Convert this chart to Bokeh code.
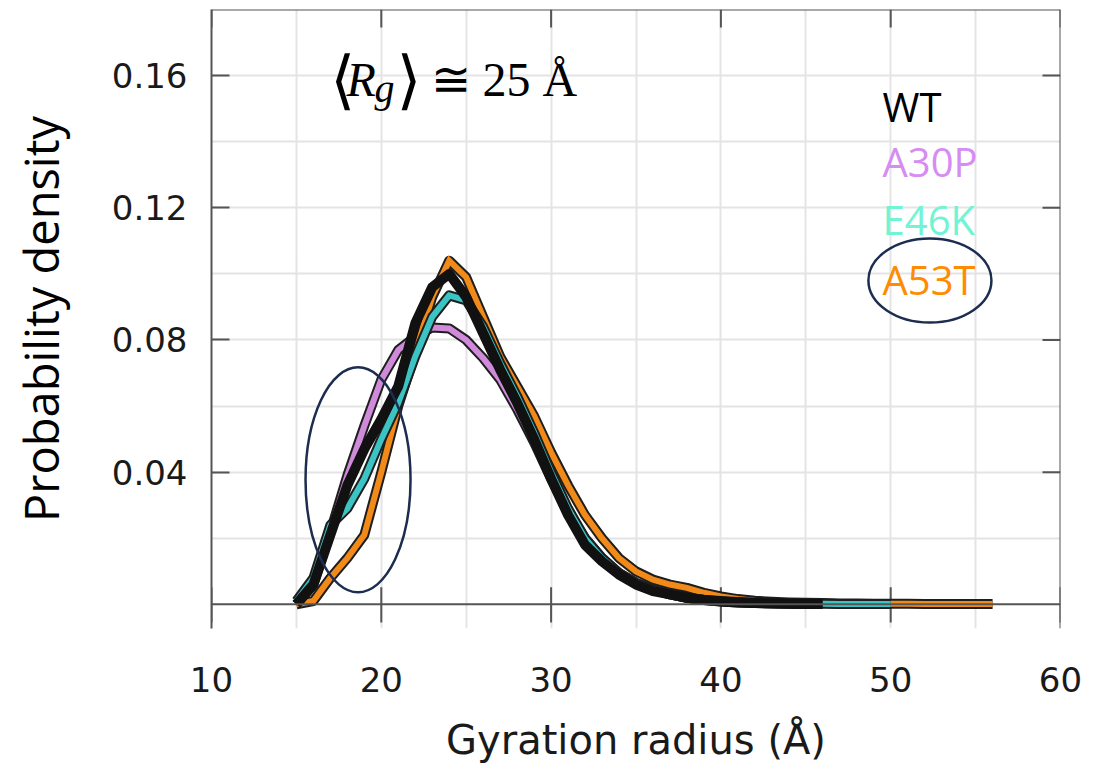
from bokeh.plotting import figure
from bokeh.models import Range1d, FixedTicker, Span
from bokeh.embed import file_html
from bokeh.resources import INLINE
from bokeh.core.properties import value

# ---------------- data ----------------
rg_wt = list(range(15, 47))
pd_wt = [0.000, 0.006, 0.021, 0.036, 0.047, 0.056, 0.066, 0.085, 0.096, 0.100,
         0.093, 0.082, 0.071, 0.061, 0.050, 0.038, 0.027, 0.018, 0.013, 0.009,
         0.006, 0.004, 0.003, 0.002, 0.0013, 0.0009, 0.0006, 0.0004, 0.0003, 0.0002,
         0.0001, 0.0001]

rg_a30p = list(range(15, 46))
pd_a30p = [0.000, 0.006, 0.022, 0.039, 0.054, 0.068, 0.077, 0.081, 0.0838, 0.0835,
           0.080, 0.0745, 0.068, 0.059, 0.049, 0.038, 0.028, 0.020, 0.014, 0.0095,
           0.0065, 0.0045, 0.003, 0.002, 0.0013, 0.0009, 0.0006, 0.0004, 0.0003, 0.0002,
           0.0001]

rg_e46k = list(range(15, 51))
pd_e46k = [0.001, 0.008, 0.024, 0.029, 0.038, 0.050, 0.061, 0.075, 0.087, 0.0935,
           0.092, 0.084, 0.073, 0.063, 0.052, 0.040, 0.029, 0.020, 0.014, 0.0095,
           0.0065, 0.0045, 0.003, 0.002, 0.0014, 0.001, 0.0007, 0.0005, 0.0004, 0.0003,
           0.0002, 0.0002, 0.0001, 0.0001, 0.0001, 0.0001]

rg_a53t = list(range(15, 57))
pd_a53t = [0.000, 0.001, 0.008, 0.014, 0.021, 0.040, 0.060, 0.076, 0.093, 0.104,
           0.099, 0.087, 0.075, 0.066, 0.057, 0.046, 0.036, 0.027, 0.020, 0.014,
           0.010, 0.0075, 0.006, 0.005, 0.0035, 0.0024, 0.0016, 0.0011, 0.0008, 0.0006,
           0.0005, 0.0004, 0.0003, 0.0003, 0.0002, 0.0002, 0.0002, 0.0001, 0.0001, 0.0001,
           0.0001, 0.0001]

series_names = ["WT", "A30P", "E46K", "A53T"]
line_colors = ["#111111", "#cf8ad9", "#3cc4c4", "#f28a1a"]
label_colors = ["#000000", "#d68cf2", "#6ff5d4", "#ff8c00"]

x_tick_values = [10, 20, 30, 40, 50, 60]
y_tick_values = [0.04, 0.08, 0.12, 0.16]
x_grid_values = [10, 15, 20, 25, 30, 35, 40, 45, 50, 55, 60]
y_grid_values = [0.02, 0.04, 0.06, 0.08, 0.10, 0.12, 0.14, 0.16, 0.18]

X_MIN, X_MAX = 10, 60
Y_MIN, Y_MAX = -0.0073, 0.18

# ---------------- figure ----------------
AX = "#555555"
p = figure(width=1096, height=772,
           x_range=Range1d(X_MIN, X_MAX), y_range=Range1d(Y_MIN, Y_MAX),
           output_backend="svg", toolbar_location=None,
           min_border_left=211, min_border_right=36,
           min_border_top=9, min_border_bottom=144)
p.outline_line_color = None
p.background_fill_color = "white"
p.border_fill_color = "white"

# grid
p.xgrid.ticker = FixedTicker(ticks=x_grid_values)
p.ygrid.ticker = FixedTicker(ticks=y_grid_values)
for g in (p.xgrid, p.ygrid):
    g.grid_line_color = "#e4e4e4"
    g.grid_line_width = 2

# bottom axis (labels only)
xa = p.xaxis[0]
xa.ticker = FixedTicker(ticks=x_tick_values)
xa.axis_line_color = None
xa.major_tick_line_color = None
xa.minor_tick_line_color = None
xa.major_label_text_font = "DejaVu Sans"
xa.major_label_text_font_size = "34px"
xa.major_label_text_color = "#1a1a1a"
xa.major_label_standoff = 32
xa.axis_label = "Gyration radius (Å)"
xa.axis_label_text_font = "DejaVu Sans"
xa.axis_label_text_font_size = "40px"
xa.axis_label_text_font_style = "normal"
xa.axis_label_text_color = "#1a1a1a"
xa.axis_label_standoff = 22

# left axis
ya = p.yaxis[0]
ya.ticker = FixedTicker(ticks=y_tick_values)
ya.axis_line_color = AX
ya.axis_line_width = 2
ya.major_tick_line_color = AX
ya.major_tick_line_width = 2
ya.major_tick_in = 18
ya.major_tick_out = 0
ya.minor_tick_line_color = None
ya.major_label_text_font = "DejaVu Sans"
ya.major_label_text_font_size = "34px"
ya.major_label_text_color = "#1a1a1a"
ya.major_label_standoff = 24
ya.axis_label = "Probability density"
ya.axis_label_text_font = "Open Sans"
ya.axis_label_text_font_size = "47px"
ya.axis_label_text_font_style = "normal"
ya.axis_label_text_color = "#000000"
ya.axis_label_standoff = 36

# top and right frame lines with inward ticks
p.add_layout(Span(location=X_MAX, dimension="height", line_color=AX, line_width=2))
p.add_layout(Span(location=Y_MAX, dimension="width", line_color=AX, line_width=2))
tick_dx = 18 / (849 / (X_MAX - X_MIN))
tick_dy = 18 / (619 / (Y_MAX - Y_MIN))
p.segment(x0=[X_MAX - tick_dx] * len(y_tick_values), x1=[X_MAX] * len(y_tick_values),
          y0=y_tick_values, y1=y_tick_values, line_color=AX, line_width=2)
p.segment(x0=x_tick_values, x1=x_tick_values,
          y0=[Y_MAX - tick_dy] * len(x_tick_values), y1=[Y_MAX] * len(x_tick_values),
          line_color=AX, line_width=2)

# zero line with crossing ticks
p.add_layout(Span(location=0, dimension="width", line_color=AX, line_width=2))
p.segment(x0=x_tick_values, x1=x_tick_values,
          y0=[-0.0055] * len(x_tick_values), y1=[0.0052] * len(x_tick_values),
          line_color=AX, line_width=2)

# curves: coloured lines with dark outline; WT solid black on top
order = [("A30P", rg_a30p, pd_a30p), ("A53T", rg_a53t, pd_a53t), ("E46K", rg_e46k, pd_e46k)]
for name, xs, ys in order:
    c = line_colors[series_names.index(name)]
    p.line(xs, ys, line_color="#1e1e1e", line_width=10, line_join="round")
    p.line(xs, ys, line_color=c, line_width=6, line_join="miter")
p.line(rg_wt, pd_wt, line_color=line_colors[0], line_width=10, line_join="round")

# legend texts
p.text(x=[49.52] * 4, y=[0.1506, 0.1340, 0.1165, 0.0983], text=series_names,
       text_color=label_colors, text_font=value("Open Sans"),
       text_font_size=value("40px"), text_baseline="alphabetic", text_align="left")

# <R_g> ≅ 25 Å annotation
p.text(x=[17.0, 20.9], y=[0.1587, 0.1587], text=["⟨", "⟩"],
       text_font=value("DejaVu Serif"), text_font_size=value("64px"),
       text_color="black", text_baseline="alphabetic")
p.text(x=[17.95], y=[0.1589], text=["R"], text_font=value("Liberation Serif"),
       text_font_size=value("48px"), text_font_style="italic",
       text_color="black", text_baseline="alphabetic")
p.text(x=[19.6], y=[0.1561], text=["g"], text_font=value("Liberation Serif"),
       text_font_size=value("40px"), text_font_style="italic",
       text_color="black", text_baseline="alphabetic")
p.text(x=[22.9], y=[0.1589], text=["≅ 25 Å"], text_font=value("Liberation Serif"),
       text_font_size=value("48px"), text_color="black", text_baseline="alphabetic")

# highlight ellipses
p.ellipse(x=[18.63, 52.31], y=[0.0377, 0.098], width=[105, 123], height=[225, 84],
          width_units="screen", height_units="screen",
          fill_color=None, line_color="#1c2d4f", line_width=2.5)

open("out.html", "w").write(file_html(p, INLINE))
